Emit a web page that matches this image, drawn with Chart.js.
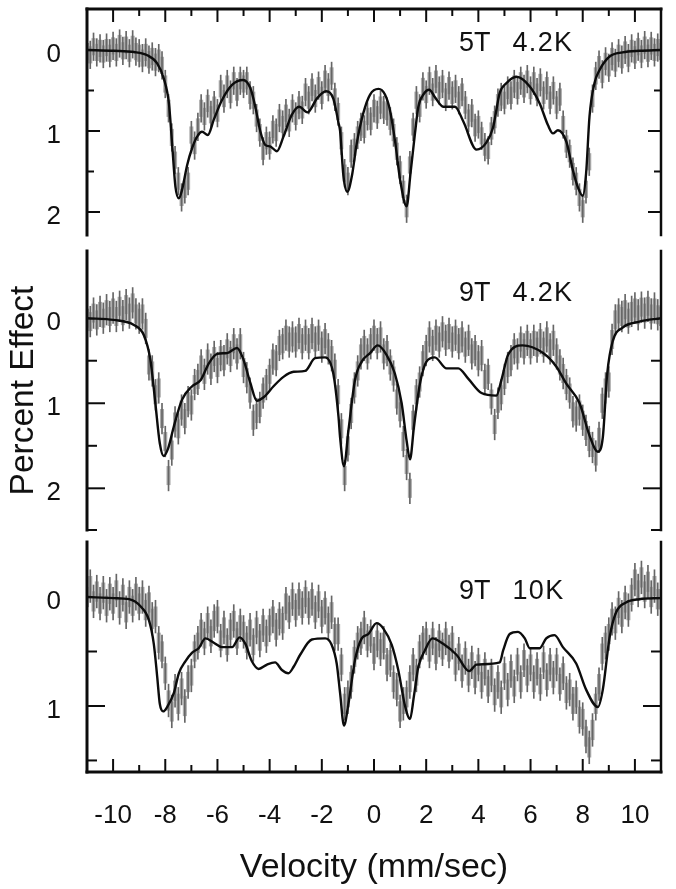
<!DOCTYPE html>
<html>
<head>
<meta charset="utf-8">
<title>Percent Effect vs Velocity</title>
<script src="https://cdn.jsdelivr.net/npm/chart.js@4"></script>
<style>
  html, body { margin: 0; padding: 0; background: #fff; }
  #page { position: relative; width: 676px; height: 889px; overflow: hidden; }
  canvas { position: absolute; left: 0; }
  .label { position: absolute; left: 459px; font: 27px "Liberation Sans", Arial, sans-serif; white-space: pre; color: #111; line-height: 30px; }
  .label span { letter-spacing: 1.3px; }
</style>
</head>
<body>
<div id="page">
  <canvas id="panel1" width="676" height="240" style="top:0"></canvas>
  <canvas id="panel2" width="676" height="300" style="top:240px"></canvas>
  <canvas id="panel3" width="676" height="349" style="top:540px"></canvas>
  <div class="label" style="top:27px">5T   <span>4.2K</span></div>
  <div class="label" style="top:277px">9T   <span>4.2K</span></div>
  <div class="label" style="top:575px">9T   <span>10K</span></div>
</div>
<script>
const velTicks = [-10, -8, -6, -4, -2, 0, 2, 4, 6, 8, 10];
const velMinor = [-9, -7, -5, -3, -1, 1, 3, 5, 7, 9];

// velocity of each measured channel (mm/sec)
const channels = [
  -11, -10.875, -10.75, -10.625, -10.5, -10.375, -10.25, -10.125,
  -10, -9.875, -9.75, -9.625, -9.5, -9.375, -9.25, -9.125,
  -9, -8.875, -8.75, -8.625, -8.5, -8.375, -8.25, -8.125,
  -8, -7.875, -7.75, -7.625, -7.5, -7.375, -7.25, -7.125,
  -7, -6.875, -6.75, -6.625, -6.5, -6.375, -6.25, -6.125,
  -6, -5.875, -5.75, -5.625, -5.5, -5.375, -5.25, -5.125,
  -5, -4.875, -4.75, -4.625, -4.5, -4.375, -4.25, -4.125,
  -4, -3.875, -3.75, -3.625, -3.5, -3.375, -3.25, -3.125,
  -3, -2.875, -2.75, -2.625, -2.5, -2.375, -2.25, -2.125,
  -2, -1.875, -1.75, -1.625, -1.5, -1.375, -1.25, -1.125,
  -1, -0.875, -0.75, -0.625, -0.5, -0.375, -0.25, -0.125,
  0, 0.125, 0.25, 0.375, 0.5, 0.625, 0.75, 0.875,
  1, 1.125, 1.25, 1.375, 1.5, 1.625, 1.75, 1.875,
  2, 2.125, 2.25, 2.375, 2.5, 2.625, 2.75, 2.875,
  3, 3.125, 3.25, 3.375, 3.5, 3.625, 3.75, 3.875,
  4, 4.125, 4.25, 4.375, 4.5, 4.625, 4.75, 4.875,
  5, 5.125, 5.25, 5.375, 5.5, 5.625, 5.75, 5.875,
  6, 6.125, 6.25, 6.375, 6.5, 6.625, 6.75, 6.875,
  7, 7.125, 7.25, 7.375, 7.5, 7.625, 7.75, 7.875,
  8, 8.125, 8.25, 8.375, 8.5, 8.625, 8.75, 8.875,
  9, 9.125, 9.25, 9.375, 9.5, 9.625, 9.75, 9.875,
  10, 10.125, 10.25, 10.375, 10.5, 10.625, 10.75, 10.875,
  11
];

// 5T 4.2K
const data5T = [
  .02, .06, -.04, .03, -.02, .05, -.03, .04,
  -.05, .03, -.08, .01, -.06, .04, -.07, .02,
  .04, .1, .03, .12, .08, .15, .1, .19,
  .42, .72, 1.08, 1.36, 1.62, 1.82, 1.72, 1.62,
  1.05, 1.18, .95, .72, .82, .66, .8, .68,
  .78, .48, .6, .42, .55, .38, .52, .38,
  .42, .38, .56, .62, .84, 1.02, 1.25, 1.12,
  1.18, .98, 1.02, .84, .92, .78, .9, .72,
  .82, .68, .74, .52, .62, .46, .6, .44,
  .56, .36, .46, .32, .58, .76, 1.12, 1.52,
  1.62, 1.28, 1.2, 1.05, .95, .98, .82, .88,
  .72, .8, .68, .74, .76, .88, 1.02, 1.25,
  1.48, 1.72, 1.96, 1.42, .95, .62, .72, .45,
  .55, .38, .52, .36, .5, .42, .58, .44,
  .56, .48, .62, .52, .68, .84, .78, .96,
  .92, 1.06, 1.2, 1.24, 1.0, .86, .65, .58,
  .62, .5, .56, .42, .5, .38, .48, .36,
  .5, .38, .52, .4, .56, .44, .62, .5,
  .68, .58, .92, 1.16, 1.28, 1.5, 1.62, 1.82,
  1.96, 1.72, 1.38, .6, .32, .18, .3, .14,
  .22, .08, .16, .04, .12, 0, .1, -.02,
  .06, -.04, .05, -.06, .04, -.05, .03, -.03,
  .02
];
const err5T = 0.17;
const fitV5T = [-11, -9.97, -9.2, -8.69, -8.31, -8.06, -7.86, -7.74, -7.61, -7.48, -7.36, -7.16, -6.97, -6.78, -6.59, -6.37, -6.14, -5.83, -5.44, -5.02, -4.74, -4.55, -4.36, -4.17, -3.98, -3.72, -3.47, -3.15, -2.87, -2.55, -2.19, -1.84, -1.56, -1.36, -1.3, -1.17, -1.02, -.85, -.66, -.41, -.15, .17, .42, .61, .8, 1.0, 1.25, 1.4, 1.57, 1.7, 1.89, 2.12, 2.33, 2.65, 3.1, 3.42, 3.93, 4.31, 4.56, 4.82, 5.07, 5.46, 5.97, 6.35, 6.67, 6.86, 7.05, 7.37, 7.62, 7.81, 8.0, 8.13, 8.26, 8.45, 8.64, 9.03, 9.53, 10.17, 11];
const fitY5T = [0, .01, .025, .065, .165, .35, .66, 1.15, 1.69, 1.83, 1.73, 1.42, 1.21, 1.07, 1.01, 1.05, .86, .62, .43, .37, .47, .70, 1.0, 1.17, 1.19, 1.25, 1.07, .80, .70, .77, .60, .51, .60, .9, 1.0, 1.56, 1.75, 1.56, 1.15, .78, .55, .48, .55, .74, 1.11, 1.6, 1.93, 1.52, 1.03, .70, .55, .49, .58, .70, .70, .88, 1.23, 1.14, .96, .53, .41, .33, .45, .66, .93, 1.03, .99, 1.13, 1.48, 1.69, 1.80, 1.52, .82, .41, .25, .08, .03, .01, 0];

// 9T 4.2K
const data9T4 = [
  0, .04, -.06, .02, -.08, 0, -.1, -.02,
  -.12, -.02, -.14, -.03, -.16, -.06, -.18, -.05,
  0, -.05, .12, .55, .62, .9, .82, 1.18,
  1.45, 1.85, 1.55, 1.22, 1.3, 1.08, 1.18, .98,
  1.02, .78, .72, .55, .66, .48, .6, .45,
  .58, .44, .5, .36, .45, .3, .42, .3,
  .58, .7, .88, 1.2, 1.12, 1.05, .88, .78,
  .66, .48, .5, .32, .3, .2, .28, .22,
  .28, .18, .3, .2, .3, .18, .28, .2,
  .34, .24, .36, .44, .6, .9, 1.3, 1.85,
  1.5, 1.12, .82, .62, .42, .32, .42, .3,
  .2, .3, .22, .42, .38, .55, .68, .95,
  1.1, 1.45, 1.72, 2.0, 1.2, .9, .75, .5,
  .38, .22, .32, .2, .28, .16, .26, .18,
  .28, .2, .3, .22, .34, .26, .42, .38,
  .5, .44, .72, .66, .95, 1.25, 1.0, .9,
  .72, .58, .5, .36, .42, .28, .36, .26,
  .36, .26, .34, .24, .34, .22, .36, .26,
  .42, .55, .65, .78, .88, 1.1, 1.15, 1.08,
  1.2, 1.32, 1.45, 1.52, 1.62, 1.4, 1.0, .82,
  .75, .25, .02, -.05, -.02, -.1, 0, -.08,
  -.12, -.04, -.13, -.06, -.14, -.05, -.12, -.04,
  -.02
];
const err9T4 = 0.18;
const fitV9T4 = [-11, -9.97, -9.2, -8.82, -8.57, -8.38, -8.21, -8.06, -7.89, -7.67, -7.36, -6.97, -6.65, -6.33, -6.01, -5.63, -5.25, -5.0, -4.74, -4.49, -4.23, -3.85, -3.47, -3.08, -2.64, -2.26, -1.87, -1.56, -1.36, -1.3, -1.15, -.98, -.73, -.47, -.15, .14, .48, .8, 1.06, 1.25, 1.38, 1.53, 1.76, 2.01, 2.33, 2.78, 3.23, 3.61, 4.12, 4.69, 4.88, 5.14, 5.69, 6.48, 6.99, 7.37, 7.88, 8.26, 8.58, 8.77, 8.94, 9.15, 9.53, 10.17, 11];
const fitY9T4 = [0, .02, .08, .2, .49, 1.0, 1.47, 1.62, 1.53, 1.27, .96, .80, .73, .53, .42, .41, .35, .49, .76, .97, .93, .80, .69, .63, .62, .47, .46, .65, 1.16, 1.4, 1.74, 1.32, .73, .51, .41, .32, .43, .65, 1.0, 1.44, 1.66, 1.28, .77, .51, .46, .59, .59, .71, .88, .91, .73, .43, .32, .41, .57, .77, 1.0, 1.38, 1.57, 1.4, .65, .27, .11, .04, 0];

// 9T 10K
const data9T10 = [
  0, -.1, .04, -.05, .06, -.04, .08, -.03,
  .06, -.06, .1, -.02, .14, 0, .08, -.03,
  .06, 0, .12, .05, .2, .18, .42, .5,
  .7, .95, 1.05, .86, .98, .84, 1.0, .78,
  .72, .5, .42, .3, .38, .24, .36, .22,
  .18, .4, .28, .44, .3, .22, .38, .26,
  .32, .42, .3, .44, .28, .4, .26, .36,
  .26, .18, .3, .2, .24, .06, .14, .02,
  .12, .02, .1, 0, .1, .02, .14, .04,
  .18, .1, .24, .14, .34, .34, .62, .98,
  .92, .78, .55, .42, .38, .28, .4, .36,
  .52, .4, .48, .42, .62, .58, .78, .85,
  1.05, .98, .92, .78, .62, .72, .5, .42,
  .38, .5, .38, .52, .4, .48, .38, .5,
  .42, .62, .52, .68, .56, .72, .6, .74,
  .62, .78, .66, .82, .72, .9, .78, .92,
  .7, .85, .68, .82, .62, .78, .58, .72,
  .62, .78, .66, .8, .6, .76, .62, .74,
  .62, .8, .7, .88, .85, .98, .92, 1.1,
  1.12, 1.28, 1.38, 1.22, .98, .8, .52, .42,
  .34, .2, .24, .1, .18, .05, .12, -.02,
  -.16, -.06, -.18, -.05, -.14, 0, -.1, .02,
  .02
];
const err9T10 = 0.15;
const fitV9T10 = [-11, -9.97, -9.39, -8.95, -8.63, -8.44, -8.31, -8.21, -8.08, -7.93, -7.67, -7.48, -7.23, -6.97, -6.72, -6.46, -6.14, -5.83, -5.44, -5.15, -4.93, -4.68, -4.42, -4.1, -3.79, -3.53, -3.28, -3.08, -2.83, -2.38, -1.87, -1.62, -1.43, -1.3, -1.15, -.98, -.73, -.47, -.22, .1, .36, .68, .93, 1.19, 1.38, 1.53, 1.7, 1.95, 2.24, 2.65, 3.16, 3.65, 3.93, 4.82, 4.95, 5.2, 5.52, 5.78, 5.97, 6.35, 6.6, 6.92, 7.24, 7.75, 8.13, 8.58, 8.77, 9.03, 9.28, 9.66, 10.17, 11];
const fitY9T10 = [0, .01, .02, .085, .21, .43, .73, .98, 1.05, 1.01, .88, .70, .59, .51, .47, .38, .42, .46, .46, .37, .43, .59, .66, .62, .60, .67, .70, .64, .53, .39, .38, .44, .61, .88, 1.18, .98, .58, .38, .34, .24, .29, .44, .67, 1.0, 1.12, .91, .64, .49, .38, .43, .53, .68, .62, .60, .49, .34, .32, .38, .47, .47, .38, .35, .46, .61, .85, 1.01, .85, .37, .14, .05, .02, .01];

const barFill = '#ababab';
const barLine = '#666666';
const lineColor = '#0c0c0c';

// axis frame and inward tick marks, placed from the chart's own scales
const framePlugin = {
  id: 'frame',
  afterDatasetsDraw(chart, args, opts) {
    const ctx = chart.ctx;
    const a = chart.chartArea;
    const xs = chart.scales.x;
    const ys = chart.scales.y;
    ctx.save();
    ctx.strokeStyle = '#0c0c0c';
    ctx.lineCap = 'square';

    function seg(x1, y1, x2, y2, w) {
      ctx.lineWidth = w;
      ctx.beginPath();
      ctx.moveTo(x1, y1);
      ctx.lineTo(x2, y2);
      ctx.stroke();
    }

    seg(a.left, a.top, a.left, a.bottom, 3);
    seg(a.right, a.top, a.right, a.bottom, 2.5);
    if (opts.top) seg(a.left, a.top, a.right, a.top, 3);
    if (opts.bottom) seg(a.left, a.bottom, a.right, a.bottom, 3);

    opts.major.forEach(v => {
      const y = ys.getPixelForValue(v);
      seg(a.left, y, a.left + opts.majorLen, y, 2);
      seg(a.right, y, a.right - opts.majorLen, y, 2);
    });
    opts.minor.forEach(v => {
      const y = ys.getPixelForValue(v);
      seg(a.left, y, a.left + opts.minorLen, y, 2);
      seg(a.right, y, a.right - opts.minorLen, y, 2);
    });
    if (opts.top || opts.bottom) {
      const edge = opts.top ? a.top : a.bottom;
      const dir = opts.top ? 1 : -1;
      velTicks.forEach(v => {
        const x = xs.getPixelForValue(v);
        seg(x, edge, x, edge + dir * 12, 2);
      });
      velMinor.forEach(v => {
        const x = xs.getPixelForValue(v);
        seg(x, edge, x, edge + dir * 6, 2);
      });
    }
    ctx.restore();
  }
};

function makePanel(id, cfg) {
  const bars = cfg.values.map((c, i) => ({ x: channels[i], y: [c - cfg.err, c + cfg.err] }));
  const core = cfg.values.map((c, i) => ({ x: channels[i], y: [c - cfg.err * 0.6, c + cfg.err * 0.6] }));
  const fit = cfg.fitV.map((x, i) => ({ x: x, y: cfg.fitY[i] }));
  return new Chart(document.getElementById(id), {
    type: 'bar',
    data: {
      datasets: [
        { type: 'line', data: fit, borderColor: lineColor, borderWidth: 2.4, pointRadius: 0, cubicInterpolationMode: 'monotone', fill: false, order: 0 },
        { data: bars, backgroundColor: barLine, barThickness: 1, grouped: false, order: 1 },
        { data: core, backgroundColor: barFill, barThickness: 3.4, grouped: false, order: 2 }
      ]
    },
    options: {
      responsive: false,
      animation: false,
      layout: { padding: { top: cfg.padTop, bottom: cfg.padBottom, right: 15, left: 0 } },
      plugins: {
        legend: { display: false },
        tooltip: { enabled: false },
        frame: { top: cfg.frameTop, bottom: cfg.frameBottom, major: cfg.major, minor: cfg.minor, majorLen: cfg.majorLen, minorLen: cfg.minorLen }
      },
      scales: {
        x: {
          type: 'linear',
          offset: false,
          min: -11,
          max: 11,
          display: cfg.showX,
          grid: { display: false },
          border: { display: false },
          afterBuildTicks: s => { s.ticks = velTicks.map(v => ({ value: v })); },
          afterFit: s => {
            s.height = cfg.showX ? 117 : 0;
            s.paddingLeft = 0;
            s.paddingRight = 0;
          },
          ticks: { color: '#111', padding: 20, autoSkip: false, maxRotation: 0, font: { family: 'Liberation Sans', size: 26 } },
          title: { display: cfg.showX, text: 'Velocity (mm/sec)', color: '#111', font: { family: 'Liberation Sans', size: 34 }, padding: { top: 0, bottom: 1 } }
        },
        y: {
          type: 'linear',
          reverse: true,
          min: cfg.yMin,
          max: cfg.yMax,
          grid: { display: false },
          border: { display: false },
          afterBuildTicks: s => { s.ticks = cfg.labels.map(v => ({ value: v })); },
          afterFit: s => {
            s.width = 87;
            s.paddingTop = 0;
            s.paddingBottom = 0;
          },
          ticks: { color: '#111', padding: 18, labelOffset: 5, font: { family: 'Liberation Sans', size: 26 } },
          title: { display: cfg.showYTitle, text: 'Percent Effect', color: '#111', font: { family: 'Liberation Sans', size: 33.5 }, padding: { top: 4, bottom: 0 } }
        }
      }
    },
    plugins: [framePlugin]
  });
}

makePanel('panel1', {
  values: data5T, err: err5T, fitV: fitV5T, fitY: fitY5T,
  yMin: -0.506, yMax: 2.284, labels: [0, 1, 2], major: [1, 2], minor: [0.5, 1.5],
  majorLen: 12, minorLen: 6, frameTop: true, frameBottom: false, showX: false, showYTitle: false,
  padTop: 9, padBottom: 5
});
makePanel('panel2', {
  values: data9T4, err: err9T4, fitV: fitV9T4, fitY: fitY9T4,
  yMin: -0.79, yMax: 2.49, labels: [0, 1, 2], major: [1, 2], minor: [0.5, 1.5, 2.49],
  majorLen: 17, minorLen: 9, frameTop: false, frameBottom: false, showX: false, showYTitle: true,
  padTop: 11, padBottom: 10
});
makePanel('panel3', {
  values: data9T10, err: err9T10, fitV: fitV9T10, fitY: fitY9T10,
  yMin: -0.505, yMax: 1.606, labels: [0, 1], major: [1], minor: [0.5, 1.5],
  majorLen: 17, minorLen: 9, frameTop: false, frameBottom: true, showX: true, showYTitle: false,
  padTop: 2, padBottom: 0
});
</script>
</body>
</html>
